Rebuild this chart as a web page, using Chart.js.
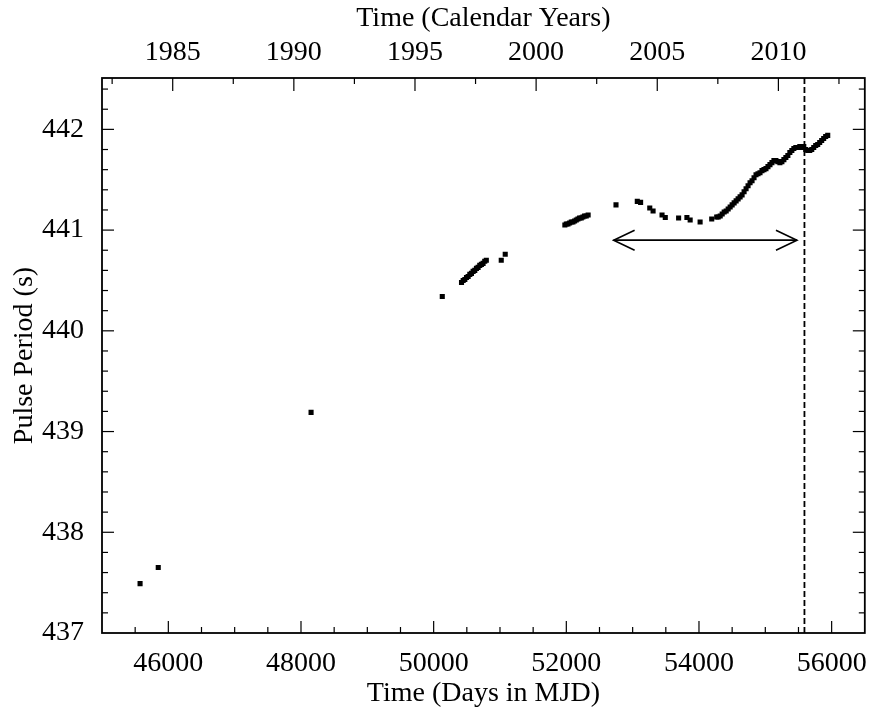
<!DOCTYPE html>
<html>
<head>
<meta charset="utf-8">
<script src="https://cdn.jsdelivr.net/npm/chart.js@4.4.1/dist/chart.umd.min.js"></script>
<style>
  html, body { margin: 0; padding: 0; background: #fff; }
  #wrap { width: 873px; height: 714px; }
</style>
</head>
<body>
<div id="wrap"><canvas id="pulseChart" width="873" height="714"></canvas></div>
<script>
// --- data (MJD, pulse period in s) ---
const mjd = [
  45574, 45848, 48152, 50130,
  50420, 50445, 50470, 50495, 50520, 50545, 50570, 50595, 50620, 50645, 50670, 50695, 50720, 50745, 50770, 50794,
  51019, 51079,
  51978, 52000, 52025, 52050, 52075, 52100, 52125, 52150, 52175, 52200, 52225, 52250, 52275, 52300, 52329,
  52749, 53070, 53120, 53258, 53308, 53443, 53492, 53693, 53818, 53867, 54017, 54192, 54267,
  54290, 54320, 54350, 54380, 54410, 54440, 54470, 54500, 54530, 54560, 54590, 54620, 54650, 54680, 54710, 54740,
  54770, 54800, 54830, 54860, 54890, 54920, 54950, 54980, 55010, 55040, 55070, 55100, 55130, 55160, 55190, 55220,
  55250, 55280, 55310, 55340, 55370, 55400, 55430, 55460, 55490, 55520, 55550, 55580, 55610, 55640, 55670, 55700,
  55730, 55760, 55790, 55820, 55850, 55880, 55910, 55941
];
const period = [
  437.49, 437.65, 439.19, 440.34,
  440.48, 440.50, 440.51, 440.53, 440.54, 440.56, 440.57, 440.59, 440.60, 440.62, 440.63, 440.65, 440.66, 440.67, 440.69, 440.70,
  440.70, 440.76,
  441.05, 441.06, 441.06, 441.07, 441.08, 441.08, 441.09, 441.10, 441.11, 441.12, 441.12, 441.13, 441.14, 441.14, 441.15,
  441.25, 441.285, 441.275, 441.22, 441.19, 441.15, 441.125, 441.12, 441.125, 441.10, 441.08, 441.11, 441.13,
  441.13, 441.14, 441.16, 441.18, 441.19, 441.21, 441.23, 441.25, 441.27, 441.29, 441.31, 441.33, 441.35, 441.38, 441.41, 441.44,
  441.47, 441.49, 441.52, 441.55, 441.56, 441.57, 441.59, 441.60, 441.61, 441.63, 441.65, 441.67, 441.69, 441.69, 441.68, 441.67,
  441.68, 441.70, 441.72, 441.74, 441.77, 441.79, 441.81, 441.82, 441.82, 441.83, 441.82, 441.83, 441.80, 441.79, 441.79, 441.80,
  441.82, 441.84, 441.85, 441.87, 441.89, 441.91, 441.93, 441.94
];

// axis ticks
const mjdTicks = [46000, 48000, 50000, 52000, 54000, 56000];
const periodTicks = [437, 438, 439, 440, 441, 442];
const yearTicks = [1985, 1990, 1995, 2000, 2005, 2010];

// annotations
const markerMjd = 55590;
const arrowFrom = 52713, arrowTo = 55477, arrowPeriod = 440.90;

const MJD_MIN = 45000, MJD_MAX = 56500;
const P_MIN = 437, P_MAX = 442.51;

// MJD of 1985.0 is 46066
const toYear = m => 1985 + (m - 46066) / 365.25;

// --- frame, inward ticks, dashed line and arrow ---
const framePlugin = {
  id: 'frame',
  afterDraw(chart) {
    const { ctx, chartArea: a, scales } = chart;
    const x = scales.x, y = scales.y, x2 = scales.x2;
    const seg = (x1, y1, xb, yb) => { ctx.beginPath(); ctx.moveTo(x1, y1); ctx.lineTo(xb, yb); ctx.stroke(); };
    ctx.save();
    ctx.strokeStyle = '#000';

    ctx.lineWidth = 1.2;
    for (let v = 45500; v < MJD_MAX; v += 500) {
      const px = x.getPixelForValue(v);
      seg(px, a.bottom, px, a.bottom - (v % 2000 === 0 ? 12 : 6));
    }
    for (let yr = 1982.5; yr < toYear(MJD_MAX); yr += 2.5) {
      const px = x2.getPixelForValue(yr);
      seg(px, a.top, px, a.top + (yr % 5 === 0 ? 13 : 6));
    }
    for (let i = 1; i < 28; i++) {
      const py = y.getPixelForValue(437 + i * 0.2);
      const L = i % 5 === 0 ? 12 : 6;
      seg(a.left, py, a.left + L, py);
      seg(a.right, py, a.right - L, py);
    }

    ctx.lineWidth = 1.8;
    ctx.strokeRect(a.left, a.top, a.right - a.left, a.bottom - a.top);

    // vertical dashed marker
    const mx = x.getPixelForValue(markerMjd);
    ctx.lineWidth = 1.8;
    ctx.setLineDash([6, 3]);
    seg(mx, a.top, mx, a.bottom);
    ctx.setLineDash([]);

    // double headed arrow
    const ax1 = x.getPixelForValue(arrowFrom), ax2 = x.getPixelForValue(arrowTo);
    const ay = y.getPixelForValue(arrowPeriod);
    ctx.lineWidth = 1.6;
    seg(ax1, ay, ax2, ay);
    ctx.beginPath();
    ctx.moveTo(ax1 + 21, ay - 10); ctx.lineTo(ax1, ay); ctx.lineTo(ax1 + 21, ay + 10);
    ctx.moveTo(ax2 - 21, ay - 10); ctx.lineTo(ax2, ay); ctx.lineTo(ax2 - 21, ay + 10);
    ctx.stroke();
    ctx.restore();
  }
};

Chart.defaults.font.family = '"Liberation Serif", "DejaVu Serif", serif';
Chart.defaults.font.size = 28;
Chart.defaults.color = '#000';

const points = mjd.map((m, i) => ({ x: m, y: period[i] }));

new Chart(document.getElementById('pulseChart'), {
  type: 'scatter',
  data: {
    datasets: [{
      data: points,
      pointStyle: 'rect',
      radius: 3.6,
      borderWidth: 0,
      backgroundColor: '#000'
    }]
  },
  options: {
    responsive: false,
    animation: false,
    devicePixelRatio: 1,
    layout: { padding: { left: 0, right: 4, top: 0, bottom: 0 } },
    plugins: { legend: { display: false }, tooltip: { enabled: false } },
    scales: {
      x: {
        type: 'linear', position: 'bottom', min: MJD_MIN, max: MJD_MAX,
        grid: { display: false }, border: { display: false },
        afterBuildTicks: s => { s.ticks = mjdTicks.map(v => ({ value: v })); },
        ticks: { padding: 6, maxRotation: 0, callback: v => String(v) },
        title: { display: true, text: 'Time (Days in MJD)', padding: { top: 0, bottom: 4 } },
        afterFit: s => { s.height = 81; }
      },
      x2: {
        type: 'linear', position: 'top', min: toYear(MJD_MIN), max: toYear(MJD_MAX),
        grid: { display: false }, border: { display: false },
        afterBuildTicks: s => { s.ticks = yearTicks.map(v => ({ value: v })); },
        ticks: { padding: 1, maxRotation: 0, callback: v => String(v) },
        title: { display: true, text: 'Time (Calendar Years)', padding: { top: 2, bottom: 0 } },
        afterFit: s => { s.height = 78; }
      },
      y: {
        type: 'linear', position: 'left', min: P_MIN, max: P_MAX,
        grid: { display: false }, border: { display: false },
        afterBuildTicks: s => { s.ticks = periodTicks.map(v => ({ value: v })); },
        ticks: { padding: 10, callback: v => String(v) },
        title: { display: true, text: 'Pulse Period (s)', padding: { top: 8, bottom: 4 } },
        afterFit: s => { s.width = 102; }
      }
    }
  },
  plugins: [framePlugin]
});
</script>
</body>
</html>
